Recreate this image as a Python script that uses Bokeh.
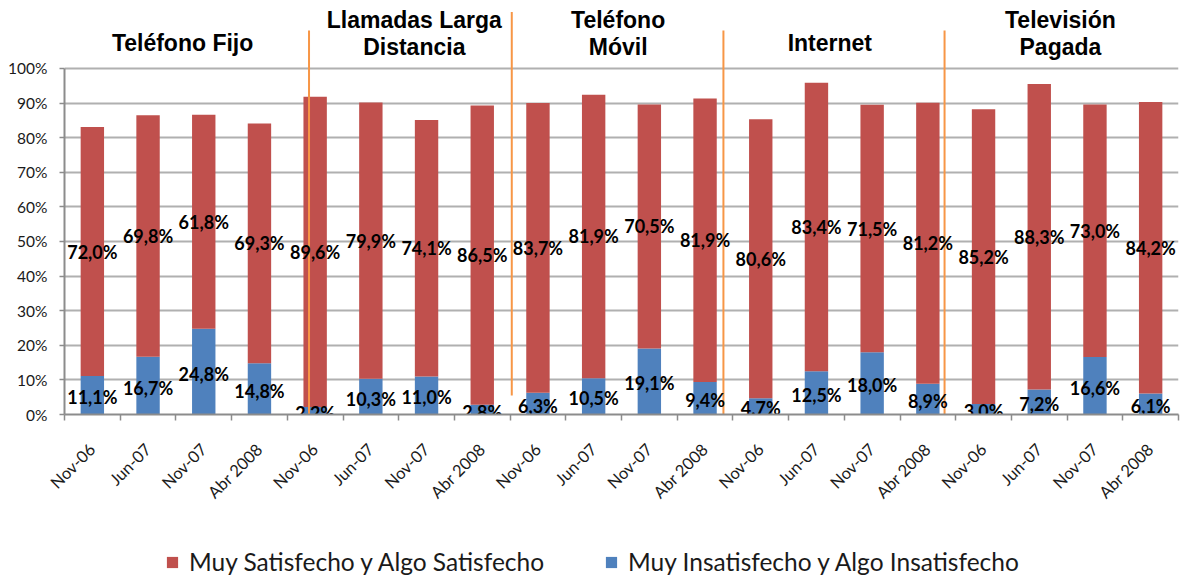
import math
from bokeh.plotting import figure
from bokeh.layouts import column
from bokeh.models import Range1d, FixedTicker, ColumnDataSource, Legend, LegendItem
from bokeh.core.properties import value
from bokeh.embed import file_html
from bokeh.resources import INLINE

# ---------------- data ----------------
groups = ["Teléfono Fijo", "Llamadas Larga Distancia", "Teléfono Móvil", "Internet", "Televisión Pagada"]
periods = ["Nov-06", "Jun-07", "Nov-07", "Abr 2008"]
categories = [p for g in groups for p in periods]

insatisfecho = [11.1, 16.7, 24.8, 14.8,
                2.2, 10.3, 11.0, 2.8,
                6.3, 10.5, 19.1, 9.4,
                4.7, 12.5, 18.0, 8.9,
                3.0, 7.2, 16.6, 6.1]
satisfecho = [72.0, 69.8, 61.8, 69.3,
              89.6, 79.9, 74.1, 86.5,
              83.7, 81.9, 70.5, 81.9,
              80.6, 83.4, 71.5, 81.2,
              85.2, 88.3, 73.0, 84.2]
y_ticks = [0, 10, 20, 30, 40, 50, 60, 70, 80, 90, 100]
y_tick_labels = [f"{t}%" for t in y_ticks]

legend_sat = "Muy Satisfecho y Algo Satisfecho"
legend_ins = "Muy Insatisfecho y Algo Insatisfecho"

# ---------------- styles ----------------
RED = "#C0504D"
BLUE = "#4F81BD"
ORANGE = "#F79646"
GRID = "#B0B0B0"
AXIS = "#8C8C8C"
TXT = "#1a1a1a"


def fmt(v):
    return f"{v:.1f}".replace(".", ",") + "%"


n = len(categories)
xs = [i + 0.5 for i in range(n)]
top_sat = [a + b for a, b in zip(insatisfecho, satisfecho)]
src = ColumnDataSource(dict(
    x=xs,
    ins=insatisfecho,
    sat=satisfecho,
    top=top_sat,
    ins_mid=[v / 2 for v in insatisfecho],
    sat_mid=[a + b / 2 for a, b in zip(insatisfecho, satisfecho)],
    ins_lbl=[fmt(v) for v in insatisfecho],
    sat_lbl=[fmt(v) for v in satisfecho],
))

p = figure(width=1186, height=514, output_backend="svg", toolbar_location=None,
           x_range=Range1d(0, n), y_range=Range1d(0, 119.65),
           min_border_left=64, min_border_right=8, min_border_top=0, min_border_bottom=100)
p.outline_line_color = None
p.background_fill_color = "white"
p.border_fill_color = "white"

# axes
p.xaxis.ticker = FixedTicker(ticks=xs, minor_ticks=list(range(n + 1)))
p.xaxis.major_label_overrides = {x: c for x, c in zip(xs, categories)}
p.xaxis.major_label_orientation = math.pi / 4
p.xaxis.major_tick_out = 0
p.xaxis.major_tick_in = 0
p.xaxis.minor_tick_out = 6
p.xaxis.minor_tick_in = 0
p.xaxis.minor_tick_line_color = AXIS
p.xaxis.minor_tick_line_width = 1.5
p.xaxis.axis_line_color = AXIS
p.xaxis.axis_line_width = 2
p.xaxis.major_label_standoff = 26
p.xaxis.major_label_text_font = "Lato"
p.xaxis.major_label_text_font_size = "16.5px"
p.xaxis.major_label_text_color = TXT

p.yaxis.ticker = FixedTicker(ticks=y_ticks)
p.yaxis.major_label_overrides = {t: l for t, l in zip(y_ticks, y_tick_labels)}
p.yaxis.bounds = (0, 100)
p.yaxis.axis_line_color = AXIS
p.yaxis.axis_line_width = 2
p.yaxis.major_tick_out = 5
p.yaxis.major_tick_in = 0
p.yaxis.major_tick_line_color = AXIS
p.yaxis.major_tick_line_width = 1.5
p.yaxis.minor_tick_line_color = None
p.yaxis.major_label_standoff = 12
p.yaxis.major_label_text_font = "Lato"
p.yaxis.major_label_text_font_size = "15.5px"
p.yaxis.major_label_text_color = TXT

p.xgrid.grid_line_color = None
p.ygrid.grid_line_color = GRID
p.ygrid.grid_line_width = 2

# bars
r_ins = p.vbar(x="x", width=0.42, bottom=0, top="ins", source=src,
               fill_color=BLUE, line_color=None)
r_sat = p.vbar(x="x", width=0.42, bottom="ins", top="top", source=src,
               fill_color=RED, line_color=None)

# separators between groups (annotation lines)
sep_x = [4.39, 8.03, 11.83, 15.80]
sep_y0 = [0, 5.5, 0, 0]
sep_y1 = [111.0, 116.3, 111.0, 111.0]
p.segment(x0=sep_x, y0=sep_y0, x1=sep_x, y1=sep_y1, line_color=ORANGE, line_width=2)

# data labels
p.text(x="x", y="sat_mid", text="sat_lbl", source=src, text_align="center",
       text_baseline="middle", text_font=value("Lato"), text_font_style="bold",
       text_font_size="18px", text_color="black")
p.text(x="x", y="ins_mid", text="ins_lbl", source=src, text_align="center",
       text_baseline="middle", text_font=value("Lato"), text_font_style="bold",
       text_font_size="18px", text_color="black", y_offset=2)

# group titles
title_lines = [
    ("Teléfono Fijo", 2.12, 107.5),
    ("Llamadas Larga", 6.28, 113.9),
    ("Distancia", 6.28, 106.1),
    ("Teléfono", 9.94, 113.9),
    ("Móvil", 9.94, 106.1),
    ("Internet", 13.74, 107.5),
    ("Televisión", 17.88, 113.9),
    ("Pagada", 17.88, 106.1),
]
p.text(x=[t[1] for t in title_lines], y=[t[2] for t in title_lines],
       text=[t[0] for t in title_lines], text_align="center", text_baseline="middle",
       text_font=value("Liberation Sans"), text_font_style="bold",
       text_font_size="23px", text_color="black")

# legend in its own strip below the chart
pl = figure(width=1186, height=62, output_backend="svg", toolbar_location=None,
            x_range=Range1d(0, 1), y_range=Range1d(0, 1),
            min_border_left=0, min_border_right=0, min_border_top=0, min_border_bottom=0)
pl.axis.visible = False
pl.grid.visible = False
pl.outline_line_color = None
pl.border_fill_color = "white"
pl.background_fill_color = "white"
l_sat = pl.vbar(x=[-10], width=0.1, top=[-10], bottom=[-11], fill_color=RED, line_color=None)
l_ins = pl.vbar(x=[-10], width=0.1, top=[-10], bottom=[-11], fill_color=BLUE, line_color=None)
legend = Legend(items=[LegendItem(label=legend_sat, renderers=[l_sat]),
                       LegendItem(label=legend_ins, renderers=[l_ins])],
                orientation="horizontal", location=(101, 0), margin=0, padding=0,
                spacing=60, glyph_width=14, glyph_height=14, label_standoff=10,
                label_text_font="Lato", label_text_font_size="24.5px",
                label_text_color=TXT, border_line_color=None,
                background_fill_alpha=0)
pl.add_layout(legend)

layout = column(p, pl, spacing=0)
open("out.html", "w").write(file_html(layout, INLINE))
